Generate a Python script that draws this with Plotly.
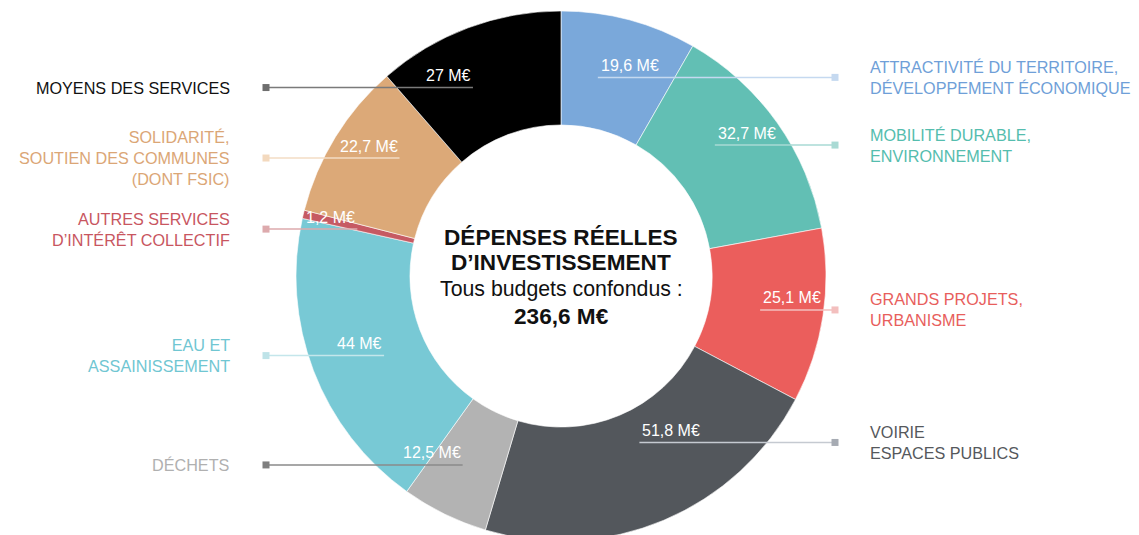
import math
import plotly.graph_objects as go

# ---------------- data ----------------
categories = [
    "ATTRACTIVITÉ DU TERRITOIRE,<br>DÉVELOPPEMENT ÉCONOMIQUE",
    "MOBILITÉ DURABLE,<br>ENVIRONNEMENT",
    "GRANDS PROJETS,<br>URBANISME",
    "VOIRIE<br>ESPACES PUBLICS",
    "DÉCHETS",
    "EAU ET<br>ASSAINISSEMENT",
    "AUTRES SERVICES<br>D’INTÉRÊT COLLECTIF",
    "SOLIDARITÉ,<br>SOUTIEN DES COMMUNES<br>(DONT FSIC)",
    "MOYENS DES SERVICES",
]
values = [19.6, 32.7, 25.1, 51.8, 12.5, 44.0, 1.2, 22.7, 27.0]
value_labels = ["19,6 M€", "32,7 M€", "25,1 M€", "51,8 M€", "12,5 M€",
                "44 M€", "1,2 M€", "22,7 M€", "27 M€"]
total_label = "236,6 M€"

# ---------------- styles ----------------
slice_colors = ["#7AA8DA", "#62BFB4", "#EB5E5C", "#53575C", "#B3B3B3",
                "#78C9D5", "#C65A63", "#DCA978", "#000000"]
text_colors = ["#6F9FD8", "#55BDAE", "#E85E5C", "#55585C", "#B0B0B0",
               "#70C6D2", "#C8565F", "#DBA676", "#111111"]
line_colors = ["#C5D9F0", "#A9DAD4", "#F3BFBE", "#C5CAD1", "#8A8A8A",
               "#C4E6EB", "#DDAAAD", "#F3DCC5", "#7A7A7A"]
square_colors = ["#C5D9F0", "#A9DAD4", "#F3BFBE", "#A6ABB3", "#7F7F7F",
                 "#BEE3E8", "#DDAAAD", "#F3D9BE", "#6E6E6E"]
# per-label placement tweaks (angle offset in degrees, radius in px)
angle_nudge = [-4.4, -5.1, 1.0, -2.4, 1.4, -3.3, -0.5, 4.5, -4.5]
label_radius = [202, 202, 202, 184, 213, 194, 209, 200, 208]

W, H = 1139, 535
OFF = 8  # page body margin of the html page
CX, CY, R = 561, 276, 265   # screen pixels
HOLE = 0.57
SQ_RIGHT, SQ_LEFT = 835, 266
TXT_RIGHT, TXT_LEFT = 868, 232
FONT = "Liberation Sans, Arial, sans-serif"


def X(px):
    return (px - OFF) / W


def Y(py):
    return 1 - (py - OFF) / H


fig = go.Figure(go.Pie(
    labels=[c.replace("<br>", " ") for c in categories],
    values=values,
    marker=dict(colors=slice_colors, line=dict(color="white", width=0.6)),
    hole=HOLE,
    sort=False,
    direction="clockwise",
    rotation=0,
    textinfo="none",
    hoverinfo="skip",
    showlegend=False,
    domain=dict(x=[X(CX - R), X(CX + R)], y=[max(0, Y(CY + R)), Y(CY - R)]),
))

shapes = []
annotations = []
total = sum(values)
cum = 0.0
for i, v in enumerate(values):
    mid = (cum + v / 2) / total * 360.0
    cum += v
    ang = math.radians(mid + angle_nudge[i])
    ax = CX + label_radius[i] * math.sin(ang)
    ay = CY - label_radius[i] * math.cos(ang)
    right = math.sin(ang) > 0
    sqx = SQ_RIGHT if right else SQ_LEFT
    # leader line
    shapes.append(dict(type="line", xref="paper", yref="paper",
                       x0=X(ax), x1=X(sqx), y0=Y(ay), y1=Y(ay),
                       line=dict(color=line_colors[i], width=1.5)))
    # small square
    shapes.append(dict(type="rect", xref="paper", yref="paper",
                       x0=X(sqx - 3.5), x1=X(sqx + 3.5),
                       y0=Y(ay - 3.5), y1=Y(ay + 3.5),
                       fillcolor=square_colors[i], line=dict(width=0)))
    # value label
    annotations.append(dict(
        x=X(ax + (1 if right else 0)), y=Y(ay - 12), xref="paper", yref="paper",
        text=value_labels[i], showarrow=False,
        xanchor="left" if right else "right", yanchor="middle",
        font=dict(family=FONT, size=16, color="white")))
    # category label
    annotations.append(dict(
        x=X(TXT_RIGHT if right else TXT_LEFT), y=Y(ay), xref="paper", yref="paper",
        text=categories[i], showarrow=False,
        xanchor="left" if right else "right", yanchor="middle",
        align="left" if right else "right",
        font=dict(family=FONT, size=16.2, color=text_colors[i])))

# centre text
centre_lines = [
    ("<b>DÉPENSES RÉELLES</b>", 22.6, 237),
    ("<b>D’INVESTISSEMENT</b>", 22.6, 263),
    ("Tous budgets confondus :", 21.3, 289),
    ("<b>" + total_label + "</b>", 22.6, 316),
]
for txt, size, py in centre_lines:
    annotations.append(dict(x=X(CX), y=Y(py), xref="paper", yref="paper",
                            text=txt, showarrow=False, xanchor="center",
                            yanchor="middle",
                            font=dict(family=FONT, size=size, color="#111111")))

fig.update_layout(
    width=W, height=H,
    margin=dict(l=0, r=0, t=0, b=0),
    paper_bgcolor="white", plot_bgcolor="white",
    shapes=shapes, annotations=annotations,
)

fig.write_html("out.html")
